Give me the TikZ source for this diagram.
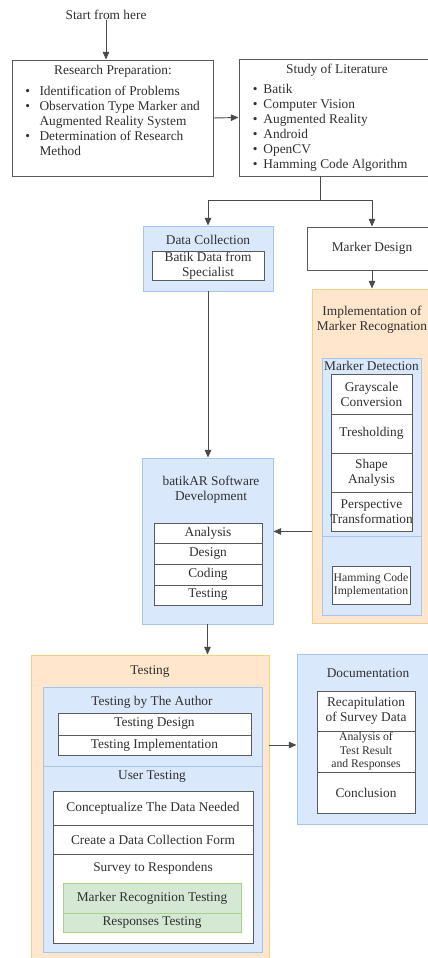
\documentclass[tikz,border=0pt]{standalone}
\usepackage{fontspec}
\setmainfont{Liberation Serif}
\usepackage{xcolor}
\usepackage{tikz}
\usetikzlibrary{arrows.meta,positioning,fit,calc}
\definecolor{bluefill}{HTML}{DAE8FC}
\definecolor{blueedge}{HTML}{A9C4EB}
\definecolor{orangefill}{HTML}{FFE6CC}
\definecolor{orangeedge}{HTML}{F2CF86}
\definecolor{greenfill}{HTML}{D5E8D4}
\definecolor{greenedge}{HTML}{A9D18E}
\definecolor{edgegray}{HTML}{5A5A5A}
\definecolor{linegray}{HTML}{4A4A4A}
\definecolor{txtgray}{HTML}{303030}
\tikzset{
  plain/.style={rectangle,draw=edgegray,fill=white,inner sep=0pt},
  bluebox/.style={rectangle,draw=blueedge,fill=bluefill,inner sep=0pt},
  orangebox/.style={rectangle,draw=orangeedge,fill=orangefill,inner sep=0pt},
  greenbox/.style={rectangle,draw=greenedge,fill=greenfill,inner sep=0pt},
  title/.style={align=center,text=txtgray,inner sep=0pt},
  small/.style={font=\fontsize{10}{11.5}\selectfont},
  arrow/.style={-{Triangle[length=6.5pt,width=5.5pt]},line width=0.8pt,draw=linegray},
  line/.style={line width=0.8pt,draw=linegray}
}

\begin{document}
\begin{tikzpicture}[x=0.03cm,y=-0.03cm,line width=0.8pt,font=\fontsize{11.4}{12.8}\selectfont]
  \useasboundingbox (0,0) rectangle (428,958);

  % start and the two top boxes
  \node[title] (start) at (106,15) {Start from here};
  \node[plain,fit={(12,60) (213,176)}] (prep) {};
  \node[title] (preptitle) at (113,71) {Research Preparation:};
  \node[title,anchor=north west] (preplist) at (25,84.5) {%
    \begin{tabular}{@{}l@{\hspace{8pt}}l@{}}
      \textbullet & Identification of Problems\\
      \textbullet & Observation Type Marker and\\
                  & Augmented Reality System\\
      \textbullet & Determination of Research\\
                  & Method
    \end{tabular}};

  \node[plain,fit={(239,59) (435,176)}] (lit) {};
  \node[title] (littitle) at (337,70) {Study of Literature};
  \node[title,anchor=north west] (litlist) at (252.5,82.5) {%
    \begin{tabular}{@{}l@{\hspace{5pt}}l@{}}
      \textbullet & Batik\\
      \textbullet & Computer Vision\\
      \textbullet & Augmented Reality\\
      \textbullet & Android\\
      \textbullet & OpenCV\\
      \textbullet & Hamming Code Algorithm
    \end{tabular}};
  \coordinate (split) at (320,200);

  % data collection and marker design
  \node[bluebox,fit={(143,226) (273,291)}] (datacol) {};
  \node[title] (datatitle) at (208,240) {Data Collection};
  \node[plain,fit={(152,251) (264,280)},label={[title]center:{Batik Data from\\Specialist}}] (batikdata) {};

  \node[plain,fit={(307,227) (437,270)},label={[title]center:Marker Design}] (design) {};

  % implementation of marker recognation
  \node[orangebox,fit={(312,289) (432,623)}] (impl) {};
  \node[title] (impltitle) at (372,320) {Implementation of\\Marker Recognation};
  \node[bluebox,fit={(322,358) (421,536)}] (detect) {};
  \node[bluebox,fit={(322,536) (421,615)}] (detectlow) {};
  \node[title] (detecttitle) at (371.5,366) {Marker Detection};
  \node[plain,fit={(331,374) (412,414)},label={[title]center:{Grayscale\\Conversion}}] (gray) {};
  \node[plain,fit={(331,414) (412,453)},label={[title]center:Tresholding}] (thresh) {};
  \node[plain,fit={(331,453) (412,492)},label={[title]center:{Shape\\Analysis}}] (shape) {};
  \node[plain,fit={(331,492) (412,531)},label={[title]center:{Perspective\\Transformation}}] (persp) {};
  \node[plain,fit={(332,566) (410,604)},label={[title,small]center:{Hamming Code\\Implementation}}] (hamming) {};

  % batikAR software development
  \node[bluebox,fit={(142,458) (273,624)}] (dev) {};
  \node[title] (devtitle) at (211,490) {batikAR Software\\Development};
  \node[plain,fit={(154,523) (262,543)},label={[title]center:Analysis}] (analysis) {};
  \node[plain,fit={(154,543) (262,564)},label={[title]center:Design}] (devdesign) {};
  \node[plain,fit={(154,564) (262,585)},label={[title]center:Coding}] (coding) {};
  \node[plain,fit={(154,585) (262,605)},label={[title]center:Testing}] (devtest) {};

  % testing
  \node[orangebox,fit={(31,655) (269,962)}] (testing) {};
  \node[title] (testtitle) at (150,672) {Testing};
  \node[bluebox,fit={(43,687) (262,766)}] (author) {};
  \node[title] (authortitle) at (152,702) {Testing by The Author};
  \node[plain,fit={(58,713) (251,735)},label={[title]center:Testing Design}] (tdesign) {};
  \node[plain,fit={(58,735) (251,755)},label={[title]center:Testing Implementation}] (timpl) {};
  \node[bluebox,fit={(43,766) (262,952)}] (user) {};
  \node[title] (usertitle) at (152,777) {User Testing};
  \node[plain,fit={(53,791) (253,825)},label={[title]center:Conceptualize The Data Needed}] (concept) {};
  \node[plain,fit={(53,825) (253,854)},label={[title]center:Create a Data Collection Form}] (form) {};
  \node[plain,fit={(53,854) (253,943)}] (survey) {};
  \node[title] (surveytitle) at (153,868) {Survey to Respondens};
  \node[greenbox,fit={(63,883) (241,913)},label={[title]center:Marker Recognition Testing}] (markertest) {};
  \node[greenbox,fit={(63,913) (241,932)},label={[title]center:Responses Testing}] (resptest) {};

  % documentation
  \node[bluebox,fit={(297,654) (440,824)}] (doc) {};
  \node[title] (doctitle) at (368,673) {Documentation};
  \node[plain,fit={(317,691) (415,731)},label={[title]center:{Recapitulation\\of Survey Data}}] (recap) {};
  \node[plain,fit={(317,731) (415,772)},label={[title,small]center:{Analysis of\\Test Result\\and Responses}}] (analysisres) {};
  \node[plain,fit={(317,772) (415,813)},label={[title]center:Conclusion}] (concl) {};

  % connectors
  \draw[arrow] (start.south) -- (start.south |- prep.north);
  \draw[arrow] (prep.east) -- (lit.west);
  \draw[line] (lit.south -| split) -- (split);
  \draw[arrow] (split) -| (datacol.north);
  \draw[arrow] (split) -| (design.north);
  \draw[arrow] (design.south) -- (impl.north);
  \draw[arrow] (datacol.south) -- (datacol.south |- dev.north);
  \draw[arrow] (impl.west |- persp.south) -- (dev.east |- persp.south);
  \draw[arrow] (dev.south) -- (dev.south |- testing.north);
  \draw[arrow] (testing.east |- timpl) -- (doc.west |- timpl);
\end{tikzpicture}
\end{document}
